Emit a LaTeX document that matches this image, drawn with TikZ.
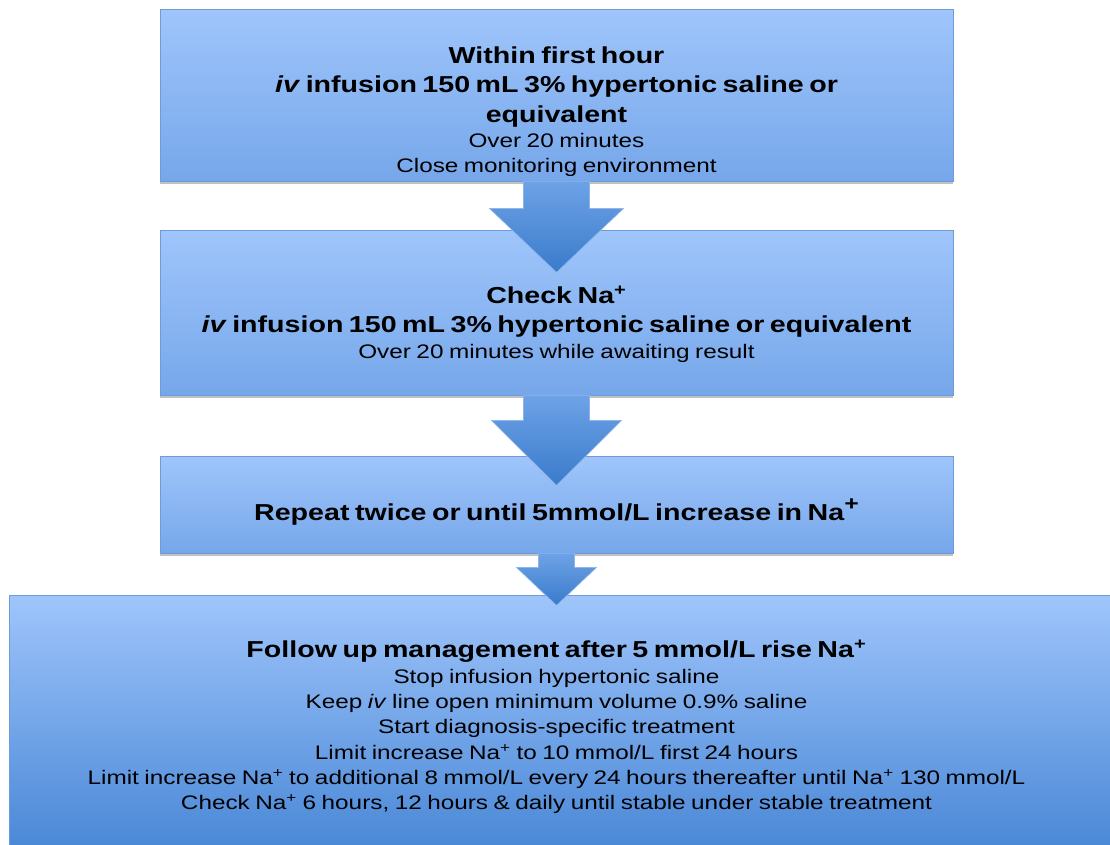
\documentclass[tikz,border=0pt]{standalone}
\usepackage{fontspec}
\setmainfont{Liberation Sans}
\usetikzlibrary{calc,shadows}
\definecolor{boxtop}{HTML}{9FC5FB}
\definecolor{boxbot}{HTML}{76A7EA}
\definecolor{bigbot}{HTML}{3F80D2}
\definecolor{boxline}{HTML}{6E9CDA}
\definecolor{arrtop}{HTML}{6DA2E6}
\definecolor{arrbot}{HTML}{3A7BCB}
\definecolor{arrline}{HTML}{8DB5EC}
\tikzset{
  stepbox/.style={draw=boxline, line width=0.6pt, top color=boxtop, bottom color=boxbot,
    minimum width=793*0.75pt, inner sep=0pt,
    drop shadow={shadow xshift=0pt, shadow yshift=-2.5pt, opacity=0.35, fill=black!70}},
  bigbox/.style={stepbox, bottom color=bigbot},
  boxtext/.style={text width=700pt, align=center, inner sep=0pt, transform shape},
  arr/.style={draw=arrline, line width=0.5pt, top color=arrtop, bottom color=arrbot},
}
\newcommand{\boldlines}[1]{{\fontsize{17.3}{21.8}\selectfont\bfseries #1\par}}
\newcommand{\smalllines}[1]{{\fontsize{14.7}{19}\selectfont #1\par}}
\begin{document}
\begin{tikzpicture}[x=0.75pt,y=-0.75pt]
\useasboundingbox (0,0) rectangle (1110,844);
\clip (0,0) rectangle (1110,844);
% boxes
\node[stepbox, minimum height=172*0.75pt] (b1) at (556.5,95) {};
\node[stepbox, minimum height=165*0.75pt] (b2) at (556.5,312.5) {};
\node[stepbox, minimum height=97*0.75pt] (b3) at (556.5,504.5) {};
\node[bigbox, minimum width=1116*0.75pt, minimum height=285*0.75pt] (b4) at (567,737.5) {};
% texts (horizontally widened like the reference)
\begin{scope}[shift={(556.5,0)}, xscale=1.24]
\node[boxtext] (t1) at (0,112) {%
  \boldlines{Within first hour\\ \textit{iv} infusion 150 mL 3\% hypertonic saline or\\ equivalent}%
  \smalllines{Over 20 minutes\\ Close monitoring environment}};
\node[boxtext] (t2) at (0,324) {%
  \boldlines{Check Na\textsuperscript{+}\\ \textit{iv} infusion 150 mL 3\% hypertonic saline or equivalent}%
  \smalllines{Over 20 minutes while awaiting result}};
\node[boxtext] (t3) at (0,512) {%
  \boldlines{Repeat twice or until 5mmol/L increase in Na\raisebox{0.45em}{\fontsize{15}{15}\selectfont\bfseries +}}};
\node[boxtext] (t4) at (0,727) {%
  \boldlines{Follow up management after 5 mmol/L rise Na\textsuperscript{+}}%
  \smalllines{Stop infusion hypertonic saline\\
  Keep \textit{iv} line open minimum volume 0.9\% saline\\
  Start diagnosis-specific treatment\\
  Limit increase Na\textsuperscript{+} to 10 mmol/L first 24 hours\\
  Limit increase Na\textsuperscript{+} to additional 8 mmol/L every 24 hours thereafter until Na\textsuperscript{+} 130 mmol/L\\
  Check Na\textsuperscript{+} 6 hours, 12 hours \& daily until stable under stable treatment}};
\end{scope}
% block arrows
\path[arr] ($(b1.south)+(-33,0)$) -- ($(b1.south)+(-33,27)$) -- ($(b1.south)+(-67,27)$)
  -- ($(b1.south)+(0,91)$) -- ($(b1.south)+(67,27)$) -- ($(b1.south)+(33,27)$)
  -- ($(b1.south)+(33,0)$) -- cycle;
\path[arr] ($(b2.south)+(-33,0)$) -- ($(b2.south)+(-33,25)$) -- ($(b2.south)+(-65,25)$)
  -- ($(b2.south)+(0,90)$) -- ($(b2.south)+(65,25)$) -- ($(b2.south)+(33,25)$)
  -- ($(b2.south)+(33,0)$) -- cycle;
\path[arr] ($(b3.south)+(-18,0)$) -- ($(b3.south)+(-18,14)$) -- ($(b3.south)+(-40,14)$)
  -- ($(b3.south)+(0,52)$) -- ($(b3.south)+(40,14)$) -- ($(b3.south)+(18,14)$)
  -- ($(b3.south)+(18,0)$) -- cycle;
\end{tikzpicture}
\end{document}
